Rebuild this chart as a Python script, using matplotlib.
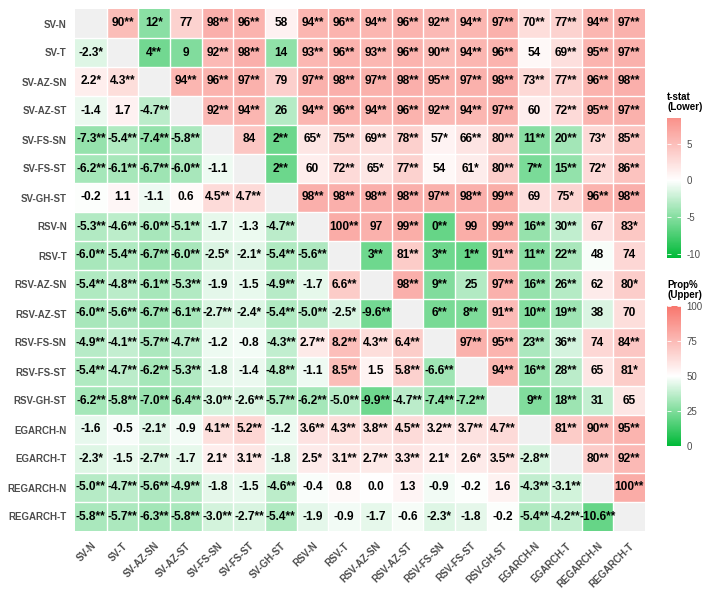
import numpy as np
import matplotlib
matplotlib.use('Agg')
import matplotlib.pyplot as plt
from matplotlib.colors import LinearSegmentedColormap, Normalize, ListedColormap
import matplotlib.cm as cm

models = ['SV-N', 'SV-T', 'SV-AZ-SN', 'SV-AZ-ST', 'SV-FS-SN', 'SV-FS-ST', 'SV-GH-ST',
          'RSV-N', 'RSV-T', 'RSV-AZ-SN', 'RSV-AZ-ST', 'RSV-FS-SN', 'RSV-FS-ST', 'RSV-GH-ST',
          'EGARCH-N', 'EGARCH-T', 'REGARCH-N', 'REGARCH-T']

# Lower triangle: t-statistics (row i, columns 0..i-1)
lower_text = [
    [],
    ['-2.3*'],
    ['2.2*', '4.3**'],
    ['-1.4', '1.7', '-4.7**'],
    ['-7.3**', '-5.4**', '-7.4**', '-5.8**'],
    ['-6.2**', '-6.1**', '-6.7**', '-6.0**', '-1.1'],
    ['-0.2', '1.1', '-1.1', '0.6', '4.5**', '4.7**'],
    ['-5.3**', '-4.6**', '-6.0**', '-5.1**', '-1.7', '-1.3', '-4.7**'],
    ['-6.0**', '-5.4**', '-6.7**', '-6.0**', '-2.5*', '-2.1*', '-5.4**', '-5.6**'],
    ['-5.4**', '-4.8**', '-6.1**', '-5.3**', '-1.9', '-1.5', '-4.9**', '-1.7', '6.6**'],
    ['-6.0**', '-5.6**', '-6.7**', '-6.1**', '-2.7**', '-2.4*', '-5.4**', '-5.0**', '-2.5*', '-9.6**'],
    ['-4.9**', '-4.1**', '-5.7**', '-4.7**', '-1.2', '-0.8', '-4.3**', '2.7**', '8.2**', '4.3**', '6.4**'],
    ['-5.4**', '-4.7**', '-6.2**', '-5.3**', '-1.8', '-1.4', '-4.8**', '-1.1', '8.5**', '1.5', '5.8**', '-6.6**'],
    ['-6.2**', '-5.8**', '-7.0**', '-6.4**', '-3.0**', '-2.6**', '-5.7**', '-6.2**', '-5.0**', '-9.9**', '-4.7**',
     '-7.4**', '-7.2**'],
    ['-1.6', '-0.5', '-2.1*', '-0.9', '4.1**', '5.2**', '-1.2', '3.6**', '4.3**', '3.8**', '4.5**', '3.2**',
     '3.7**', '4.7**'],
    ['-2.3*', '-1.5', '-2.7**', '-1.7', '2.1*', '3.1**', '-1.8', '2.5*', '3.1**', '2.7**', '3.3**', '2.1*',
     '2.6*', '3.5**', '-2.8**'],
    ['-5.0**', '-4.7**', '-5.6**', '-4.9**', '-1.8', '-1.5', '-4.6**', '-0.4', '0.8', '0.0', '1.3', '-0.9',
     '-0.2', '1.6', '-4.3**', '-3.1**'],
    ['-5.8**', '-5.7**', '-6.3**', '-5.8**', '-3.0**', '-2.7**', '-5.4**', '-1.9', '-0.9', '-1.7', '-0.6',
     '-2.3*', '-1.8', '-0.2', '-5.4**', '-4.2**', '-10.6**'],
]

# Upper triangle: proportions in % (row i, columns i+1..17)
upper_text = [
    ['90**', '12*', '77', '98**', '96**', '58', '94**', '96**', '94**', '96**', '92**', '94**', '97**', '70**',
     '77**', '94**', '97**'],
    ['4**', '9', '92**', '98**', '14', '93**', '96**', '93**', '96**', '90**', '94**', '96**', '54', '69**',
     '95**', '97**'],
    ['94**', '96**', '97**', '79', '97**', '98**', '97**', '98**', '95**', '97**', '98**', '73**', '77**',
     '96**', '98**'],
    ['92**', '94**', '26', '94**', '96**', '94**', '96**', '92**', '94**', '97**', '60', '72**', '95**', '97**'],
    ['84', '2**', '65*', '75**', '69**', '78**', '57*', '66**', '80**', '11**', '20**', '73*', '85**'],
    ['2**', '60', '72**', '65*', '77**', '54', '61*', '80**', '7**', '15**', '72*', '86**'],
    ['98**', '98**', '98**', '98**', '97**', '98**', '99**', '69', '75*', '96**', '98**'],
    ['100**', '97', '99**', '0**', '99', '99**', '16**', '30**', '67', '83*'],
    ['3**', '81**', '3**', '1**', '91**', '11**', '22**', '48', '74'],
    ['98**', '9**', '25', '97**', '16**', '26**', '62', '80*'],
    ['6**', '8**', '91**', '10**', '19**', '38', '70'],
    ['97**', '95**', '23**', '36**', '74', '84**'],
    ['94**', '16**', '28**', '65', '81*'],
    ['9**', '18**', '31', '65'],
    ['81**', '90**', '95**'],
    ['80**', '92**'],
    ['100**'],
    [],
]

tstat_ticks = [-10, -5, 0, 5]
prop_ticks = [0, 25, 50, 75, 100]

n = len(models)


def num(s):
    return float(s.replace('*', ''))


L = np.full((n, n), np.nan)
U = np.full((n, n), np.nan)
labels = {}
for i in range(n):
    for j, s in enumerate(lower_text[i]):
        L[i, j] = num(s)
        labels[(i, j)] = s
    for k, s in enumerate(upper_text[i]):
        j = i + 1 + k
        U[i, j] = num(s)
        labels[(i, j)] = s
D = np.where(np.eye(n) == 1, 1.0, np.nan)

plt.rcParams['font.family'] = ['Liberation Sans', 'DejaVu Sans']
plt.rcParams['axes.unicode_minus'] = False

W, H = 714, 595
fig = plt.figure(figsize=(W / 100, H / 100), dpi=100)
ax = fig.add_axes([75 / W, (H - 531) / H, 570 / W, 522 / H])

cmap = LinearSegmentedColormap.from_list('gwr', ['#00BA38', '#FFFFFF', '#F8766D'])
tmax = np.nanmax(np.abs(L))
tnorm = Normalize(-tmax, tmax)
pnorm = Normalize(0, 100)

edges = np.arange(n + 1)
ax.pcolormesh(edges, edges, np.ma.masked_invalid(L), cmap=cmap, norm=tnorm, alpha=0.6, linewidth=0)
ax.pcolormesh(edges, edges, np.ma.masked_invalid(U), cmap=cmap, norm=pnorm, alpha=0.6, linewidth=0)
ax.pcolormesh(edges, edges, np.ma.masked_invalid(D), cmap=ListedColormap(['#F0F0F0']), linewidth=0)

for k in range(1, n):
    ax.axhline(k, color='white', lw=1.0)
    ax.axvline(k, color='white', lw=1.0)

for (i, j), s in labels.items():
    ax.text(j + 0.5, i + 0.5, s, ha='center', va='center', fontsize=8.6, fontweight='bold', color='black')

ax.set_xlim(0, n)
ax.set_ylim(n, 0)
for sp in ax.spines.values():
    sp.set_visible(False)
ax.set_xticks(edges[:-1] + 0.5)
ax.set_yticks(edges[:-1] + 0.5)
ax.set_xticklabels(models, rotation=45, ha='right', va='top', rotation_mode='anchor')
ax.set_yticklabels(models)
ax.tick_params(length=0, labelsize=7, labelcolor='#4D4D4D')
ax.tick_params(axis='y', pad=6)
ax.tick_params(axis='x', pad=7)
for t in ax.get_xticklabels() + ax.get_yticklabels():
    t.set_fontweight('bold')


def add_cbar(rect, norm, vmin, vmax, ticks, title):
    cax = fig.add_axes(rect)
    sm = cm.ScalarMappable(norm=norm, cmap=cmap)
    cb = fig.colorbar(sm, cax=cax, boundaries=np.linspace(vmin, vmax, 257), ticks=ticks)
    cb.outline.set_visible(False)
    cax.tick_params(direction='in', length=3, width=0.6, color='white', labelsize=7,
                    labelcolor='#4D4D4D', left=True, right=True, pad=4)
    cax.text(0, 1 + 6 / 140, title, transform=cax.transAxes, ha='left', va='bottom',
             fontsize=7, fontweight='bold', linespacing=1.0)
    return cb


add_cbar([667 / W, (H - 258) / H, 14 / W, 140 / H], tnorm, np.nanmin(L), np.nanmax(L), tstat_ticks,
         't-stat\n(Lower)')
add_cbar([667 / W, (H - 446) / H, 14 / W, 140 / H], pnorm, 0, 100, prop_ticks, 'Prop%\n(Upper)')

fig.savefig('out.png', dpi=100)
